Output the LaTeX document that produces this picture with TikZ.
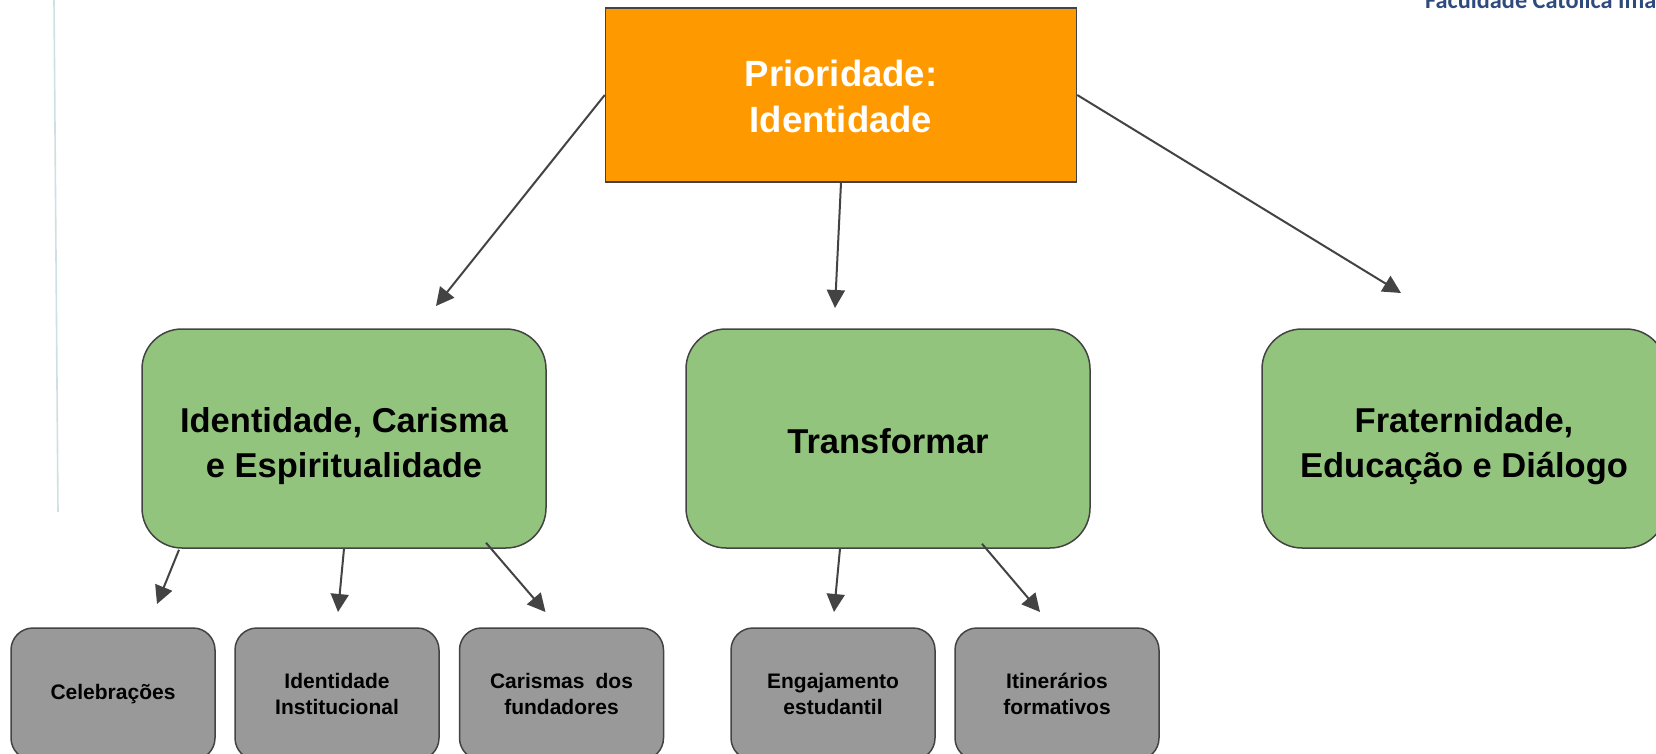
\documentclass[tikz,border=0pt]{standalone}
\usepackage{fontspec}
\setmainfont{Liberation Sans}
\newfontfamily\logofont{Carlito}
\usetikzlibrary{arrows.meta}
\usetikzlibrary{positioning,calc}
\definecolor{prioorange}{HTML}{FF9900}
\definecolor{pilargreen}{HTML}{93C47D}
\definecolor{itemgray}{HTML}{999999}
\definecolor{linegray}{HTML}{434343}
\definecolor{logoblue}{HTML}{2F4A7C}
\definecolor{marginline}{HTML}{CFE0E2}
\tikzset{
    prio/.style={draw=linegray, line width=1.5pt, fill=prioorange, text=white, minimum width=471pt, minimum height=174pt, align=center, font=\fontsize{36.5}{46}\selectfont\bfseries},
    pilar/.style={draw=linegray, line width=1.5pt, fill=pilargreen, rounded corners=40pt, minimum width=404pt, minimum height=219pt, align=center, font=\fontsize{34.5}{45}\selectfont\bfseries},
    item/.style={draw=linegray, line width=1.5pt, fill=itemgray, rounded corners=22pt, minimum width=204pt, minimum height=132pt, align=center, font=\fontsize{21}{25.5}\selectfont\bfseries},
    seta/.style={draw=linegray, line width=2pt, -{Triangle[length=18pt,width=18pt]}}
}
\begin{document}
\begin{tikzpicture}[x=1pt,y=-1pt]
    \useasboundingbox (0,0) rectangle (1656,754);
    \clip (0,0) rectangle (1656,754);

    % margin line and logo text
    \draw[marginline, line width=1.6pt] (54,0) -- (58,512);
    \node[anchor=base west, inner sep=0pt, text=logoblue, font=\fontsize{24.3}{24.3}\logofont\bfseries] (logo) at (1425,9) {Faculdade Católica Ima};

    % Top box
    \node[prio] (topo) at (841,95) {\rule{0pt}{30pt}Prioridade:\\Identidade};

    % Green boxes
    \node[pilar] (ident) at (344,438.5) {\rule{0pt}{41pt}Identidade, Carisma\\e Espiritualidade};
    \node[pilar] (transf) at (888,438.5) {\rule{0pt}{31pt}Transformar};
    \node[pilar] (frat) at (1464,438.5) {\rule{0pt}{41pt}Fraternidade,\\Educação e Diálogo};

    % Gray boxes
    \node[item] (cele) at (113,694) {Celebrações};
    \node[item] (inst) at (337,694) {Identidade\\Institucional};
    \node[item] (cari) at (561.5,694) {Carismas\hspace{0.25em} dos\\fundadores};
    \node[item] (enga) at (833,694) {Engajamento\\estudantil};
    \node[item] (itin) at (1057,694) {Itinerários\\formativos};

    % Free ends of the arrows
    \coordinate (endident) at (436,306);
    \coordinate (endtransf) at (835,308);
    \coordinate (endfrat) at (1401,293);
    \coordinate (endcele) at (157,604);
    \coordinate (endinst) at (338,612);
    \coordinate (endcari) at (545.5,612);
    \coordinate (endenga) at (834,612);
    \coordinate (enditin) at (1040,612);

    % Arrows
    \draw[seta] (topo.west) -- (endident);
    \draw[seta] (topo.south) -- (endtransf);
    \draw[seta] (topo.east) -- (endfrat);
    \draw[seta] ($(ident.south)+(-165,1)$) -- (endcele);
    \draw[seta] (ident.south) -- (endinst);
    \draw[seta] ($(ident.south)+(142,-6)$) -- (endcari);
    \draw[seta] ($(transf.south)+(-48,0)$) -- (endenga);
    \draw[seta] ($(transf.south)+(94,-5)$) -- (enditin);
\end{tikzpicture}
\end{document}
